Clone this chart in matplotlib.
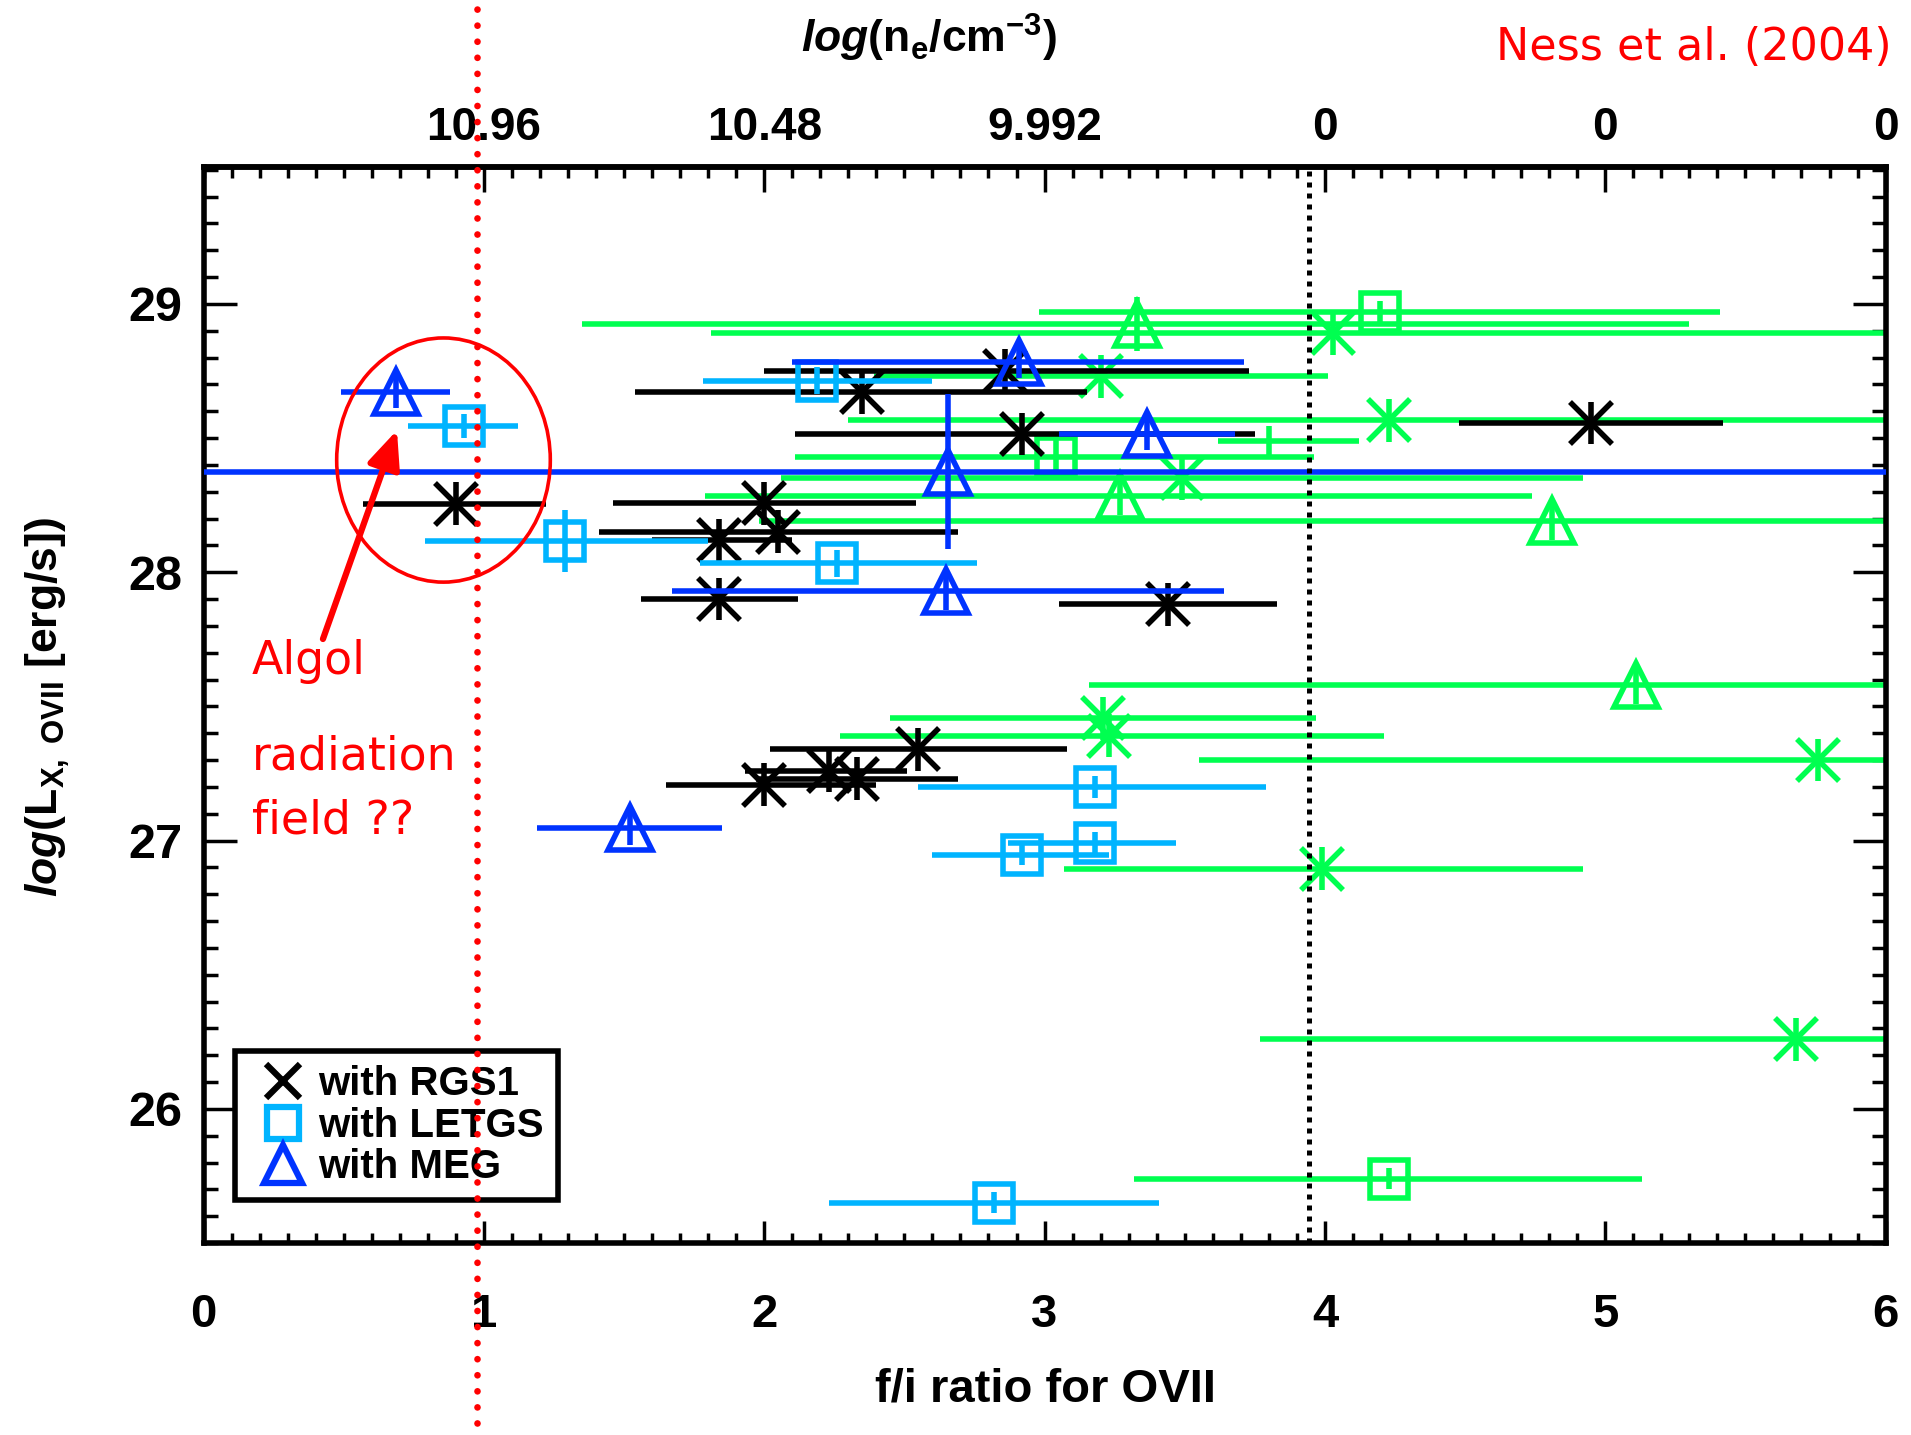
import matplotlib
matplotlib.use('Agg')
from matplotlib import pyplot as plt
from matplotlib.lines import Line2D
from matplotlib.patches import Ellipse
from matplotlib.ticker import MultipleLocator

plt.rcParams['font.family'] = ['Liberation Sans', 'DejaVu Sans']
plt.rcParams['font.weight'] = 'bold'
plt.rcParams['mathtext.fontset'] = 'custom'
plt.rcParams['mathtext.rm'] = 'Liberation Sans:bold'
plt.rcParams['mathtext.it'] = 'Liberation Sans:italic:bold'
plt.rcParams['mathtext.bf'] = 'Liberation Sans:bold'

# ---- data: f/i ratio, log Lx, lower / upper end of f/i error, Lx error ----
# with RGS1 (black crosses)
rgs_fi = [0.90, 2.00, 2.05, 1.84, 1.84, 3.44, 2.35, 2.86, 2.92, 4.95, 2.00, 2.23, 2.33, 2.55]
rgs_lx = [28.256, 28.257, 28.15, 28.12, 27.90, 27.88, 28.67, 28.75, 28.515, 28.556, 27.208, 27.26, 27.23, 27.34]
rgs_lo = [0.57, 1.46, 1.41, 1.60, 1.56, 3.05, 1.54, 2.00, 2.11, 4.48, 1.65, 1.93, 1.97, 2.02]
rgs_hi = [1.22, 2.54, 2.69, 2.10, 2.12, 3.83, 3.15, 3.73, 3.75, 5.42, 2.40, 2.51, 2.69, 3.08]
rgs_dy = [0.08] * 14

# with LETGS (light blue squares)
let_fi = [0.93, 1.29, 2.26, 2.19, 3.18, 3.18, 2.92, 2.82]
let_lx = [28.544, 28.117, 28.033, 28.713, 27.20, 26.99, 26.947, 25.65]
let_lo = [0.73, 0.79, 1.77, 1.78, 2.55, 2.87, 2.60, 2.23]
let_hi = [1.12, 1.80, 2.76, 2.60, 3.79, 3.47, 3.23, 3.41]
let_dy = [0.045, 0.115, 0.05, 0.05, 0.04, 0.04, 0.04, 0.04]

# with MEG (blue triangles)
meg_fi = [0.686, 2.655, 2.65, 2.91, 3.365, 1.52]
meg_lx = [28.672, 28.375, 27.93, 28.785, 28.515, 27.045]
meg_lo = [0.49, -0.5, 1.67, 2.10, 3.05, 1.19]
meg_hi = [0.88, 6.5, 3.64, 3.71, 3.68, 1.85]
meg_dy = [0.06, 0.29, 0.07, 0.06, 0.06, 0.06]

# other measurements (green)
gx_fi = [4.03, 3.20, 4.23, 3.49, 3.21, 3.23, 5.76, 3.99, 5.68]
gx_lx = [28.89, 28.73, 28.567, 28.35, 27.455, 27.39, 27.30, 26.895, 26.26]
gx_lo = [1.81, 2.39, 2.30, 2.06, 2.45, 2.27, 3.55, 3.07, 3.77]
gx_hi = [6.2, 4.01, 6.2, 4.92, 3.97, 4.21, 6.2, 4.92, 6.2]

gs_fi = [4.195, 3.04, 4.23]
gs_lx = [28.97, 28.43, 25.74]
gs_lo = [2.98, 2.11, 3.32]
gs_hi = [5.41, 3.96, 5.13]
gs_dy = [0.04, 0.07, 0.04]

gt_fi = [3.33, 3.27, 4.81, 5.11]
gt_lx = [28.925, 28.285, 28.19, 27.58]
gt_lo = [1.35, 1.79, 1.98, 3.16]
gt_hi = [5.30, 4.74, 6.2, 6.2]
gt_dy = [0.10, 0.07, 0.07, 0.07]

gn_fi = [3.80]
gn_lx = [28.49]
gn_lo = [3.62]
gn_hi = [4.12]

top_ticks = [1, 2, 3, 4, 5, 6]
top_labels = ['10.96', '10.48', '9.992', '0', '0', '0']

low_density_limit = 3.945
algol_ratio = 0.975
algol_ellipse = (0.856, 28.418, 0.762, 0.910)
arrow_from = (0.426, 27.751)
arrow_to = (0.690, 28.529)

BLACK = 'black'
CYAN = '#00B4FF'
BLUE = '#0033FF'
GREEN = '#00FF50'


def draw(ax, fi, lx, lo, hi, dy, color, marker, ms, z):
    xerr = [[f - l for f, l in zip(fi, lo)], [h - f for f, h in zip(fi, hi)]]
    ax.errorbar(fi, lx, xerr=xerr, yerr=dy, fmt=marker, color=color, ms=ms,
                mfc='none', mec=color, mew=4, elinewidth=4, capsize=0, zorder=z)


fig = plt.figure(figsize=(19.11, 14.35), dpi=100)
ax = fig.add_axes([0.1065, 0.1338, 0.8802, 0.7498])

draw(ax, gx_fi, gx_lx, gx_lo, gx_hi, 0.08, GREEN, 'x', 30, 2)
draw(ax, gs_fi, gs_lx, gs_lo, gs_hi, gs_dy, GREEN, 's', 28, 2)
draw(ax, gt_fi, gt_lx, gt_lo, gt_hi, gt_dy, GREEN, '^', 32, 2)
draw(ax, gn_fi, gn_lx, gn_lo, gn_hi, 0.056, GREEN, 'none', 1, 2)
draw(ax, rgs_fi, rgs_lx, rgs_lo, rgs_hi, rgs_dy, BLACK, 'x', 30, 3)
draw(ax, let_fi, let_lx, let_lo, let_hi, let_dy, CYAN, 's', 28, 4)
draw(ax, meg_fi, meg_lx, meg_lo, meg_hi, meg_dy, BLUE, '^', 32, 5)

# dotted low density limit
ax.axvline(low_density_limit, color='black', lw=3.6, linestyle=(0, (1, 1.2)), zorder=6)

# Algol annotations
ex, ey, ew, eh = algol_ellipse
ax.add_patch(Ellipse((ex, ey), ew, eh, fill=False, ec='red', lw=2.6, zorder=7))
ax.annotate('', xy=arrow_to, xytext=arrow_from,
            arrowprops=dict(arrowstyle='-|>,head_length=1.15,head_width=0.5', color='red',
                            lw=4.5, shrinkA=0, shrinkB=0, mutation_scale=20), zorder=7)
ax.axvline(algol_ratio, ymin=-0.167, ymax=1.16, clip_on=False, color='red', lw=4.8,
           linestyle=(0, (0.01, 2.4)), dash_capstyle='round', zorder=10)

ax.set_xlim(0, 6)
ax.set_ylim(25.5, 29.51)
ax.xaxis.set_major_locator(MultipleLocator(1))
ax.xaxis.set_minor_locator(MultipleLocator(0.1))
ax.yaxis.set_major_locator(MultipleLocator(1))
ax.yaxis.set_minor_locator(MultipleLocator(0.1))
ax.tick_params(axis='x', which='major', direction='in', length=16, width=2.5, labelsize=34, pad=36,
               top=False)
ax.tick_params(axis='x', which='minor', direction='in', length=7, width=2.5, top=False)
ax.tick_params(axis='y', which='major', direction='in', length=24, width=2.5, labelsize=35, pad=15,
               left=True, right=True)
ax.tick_params(axis='y', which='minor', direction='in', length=10, width=2.5, left=True, right=True)
for s in ax.spines.values():
    s.set_linewidth(4)

sec = ax.secondary_xaxis('top')
sec.set_xticks(top_ticks, labels=top_labels)
sec.xaxis.set_minor_locator(MultipleLocator(0.1))
sec.tick_params(axis='x', which='major', direction='in', length=18, width=2.5, labelsize=33, pad=12)
sec.tick_params(axis='x', which='minor', direction='in', length=8, width=2.5)
sec.spines['top'].set_linewidth(4)

# legend
handles = [
    Line2D([], [], ls='none', marker='x', ms=25, mew=4.5, color=BLACK),
    Line2D([], [], ls='none', marker='s', ms=23, mew=4.5, mfc='none', color=CYAN),
    Line2D([], [], ls='none', marker='^', ms=28, mew=4.5, mfc='none', color=BLUE),
]
leg = ax.legend(handles, ['with RGS1', 'with LETGS', 'with MEG'], loc='lower left',
                bbox_to_anchor=(0.019, 0.040), borderaxespad=0, fancybox=False,
                edgecolor='black', framealpha=1, fontsize=29, borderpad=0.35,
                handlelength=1.65, handletextpad=0.05, labelspacing=0.08)
leg.get_frame().set_linewidth(4)
leg.set_zorder(8)

# labels
fig.text(0.547, 0.0232, 'f/i ratio for OVII', fontsize=34, ha='center', va='baseline')
fig.text(0.025, 0.507, r'$\mathit{log}$(L$_{\mathrm{X,\ OVII}}$ [erg/s])', fontsize=32,
         rotation=90, ha='center', va='center')
fig.text(0.486, 0.963, r'$\mathit{log}$(n$_{\mathrm{e}}$/cm$^{\mathrm{-3}}$)', fontsize=32,
         ha='center', va='baseline')

red = dict(color='red', family='DejaVu Sans', weight='normal', va='baseline')
fig.text(0.9898, 0.9582, 'Ness et al. (2004)', fontsize=32, ha='right', **red)
fig.text(0.1319, 0.5306, 'Algol', fontsize=33, ha='left', **red)
fig.text(0.1319, 0.4637, 'radiation', fontsize=33, ha='left', **red)
fig.text(0.1319, 0.4190, 'field ??', fontsize=33, ha='left', **red)

plt.savefig('out.png', dpi=100)
